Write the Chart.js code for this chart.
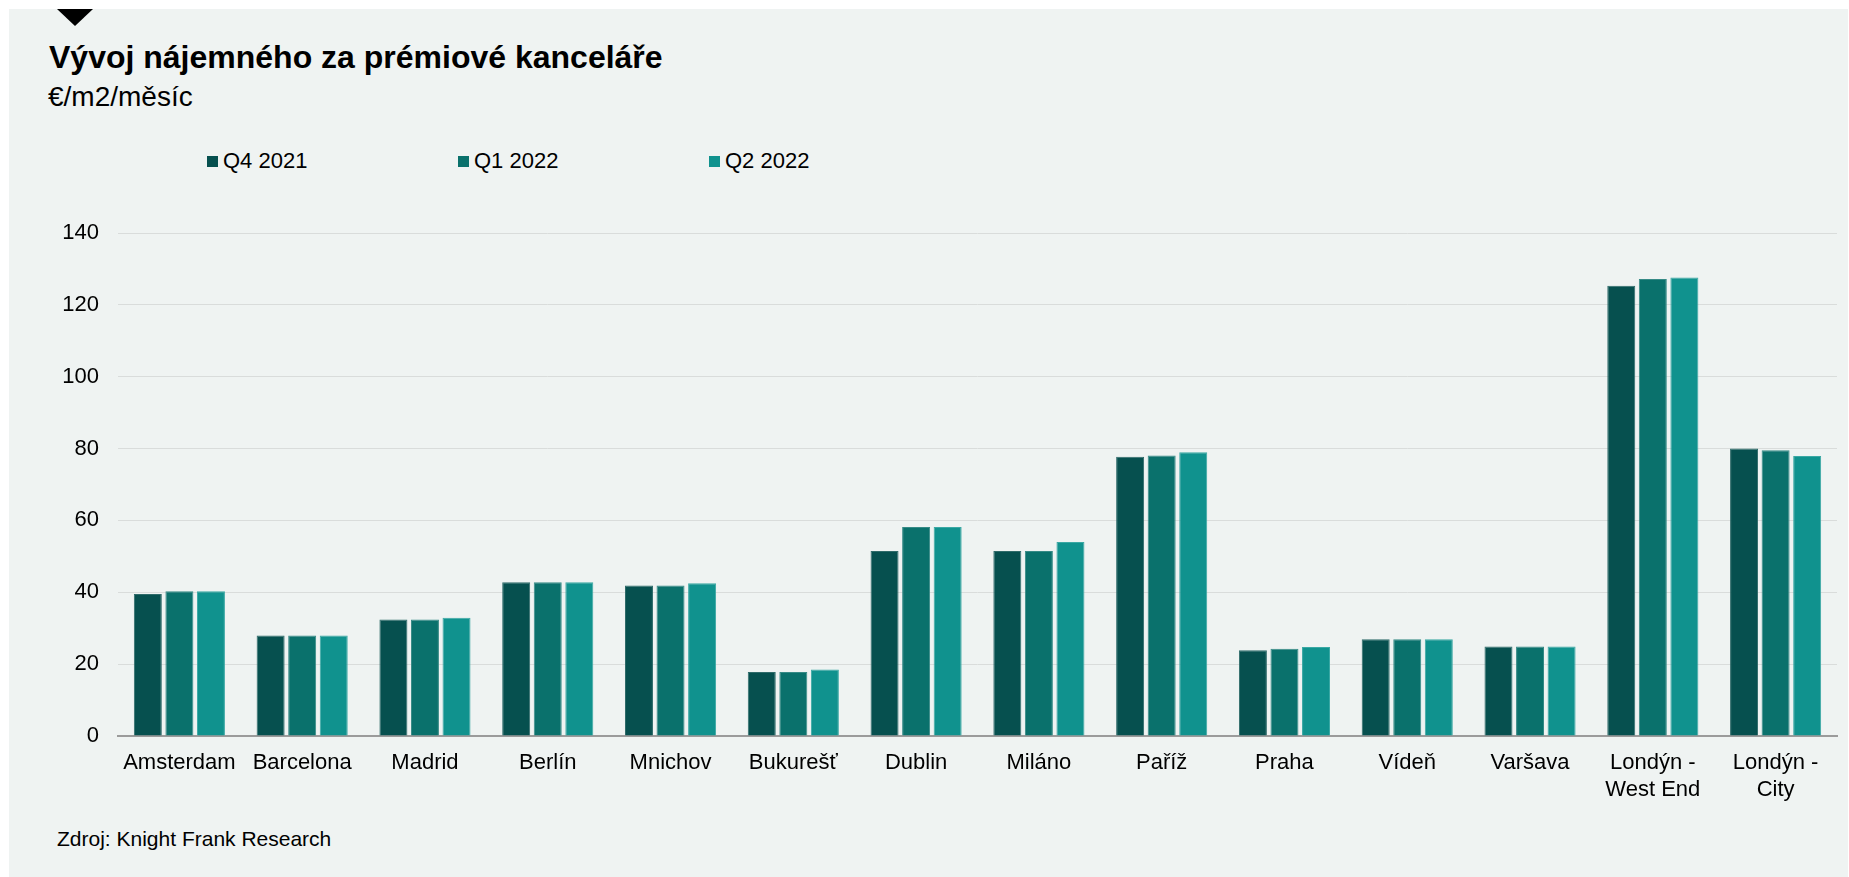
<!DOCTYPE html>
<html lang="cs">
<head>
<meta charset="utf-8">
<title>Vývoj nájemného za prémiové kanceláře</title>
<script src="https://cdn.jsdelivr.net/npm/chart.js@4/dist/chart.umd.min.js"></script>
<style>
  html, body { margin: 0; padding: 0; background: #ffffff; }
  body { width: 1849px; height: 877px; position: relative; overflow: hidden;
         font-family: "Liberation Sans", Arial, sans-serif; color: #000; }
  #panel { position: absolute; left: 9px; top: 9px; width: 1839px; height: 868px; background: #eff3f2; }
  #marker { position: absolute; left: 57px; top: 9px; width: 0; height: 0;
            border-left: 18px solid transparent; border-right: 18px solid transparent; border-top: 17px solid #000; }
  #title { position: absolute; left: 49px; top: 41px; font-size: 32px; line-height: 32px; font-weight: bold; white-space: nowrap; }
  #subtitle { position: absolute; left: 48px; top: 83px; font-size: 28px; line-height: 28px; white-space: nowrap; }
  #source { position: absolute; left: 57px; top: 828px; font-size: 21px; line-height: 21px; white-space: nowrap; }
  .leg { position: absolute; top: 150px; font-size: 22px; line-height: 22px; white-space: nowrap; }
  .leg span.box { display: inline-block; width: 11px; height: 11px; margin-right: 5px; vertical-align: 1px; }
  #wrap { position: absolute; left: 0; top: 0; width: 1849px; height: 877px; }
</style>
</head>
<body>
<div id="panel"></div>
<div id="marker"></div>
<div id="title">Vývoj nájemného za prémiové kanceláře</div>
<div id="subtitle">€/m2/měsíc</div>
<div id="legend"></div>
<div id="source">Zdroj: Knight Frank Research</div>
<div id="wrap"><canvas id="myChart" width="1849" height="877"></canvas></div>
<script>
// data
const cities = ["Amsterdam", "Barcelona", "Madrid", "Berlín", "Mnichov", "Bukurešť", "Dublin",
  "Miláno", "Paříž", "Praha", "Vídeň", "Varšava", ["Londýn -", "West End"], ["Londýn -", "City"]];
const seriesNames = ["Q4 2021", "Q1 2022", "Q2 2022"];
const q4_2021 = [39.5, 28, 32.4, 42.8, 41.9, 17.8, 51.5, 51.5, 77.7, 23.9, 26.9, 24.9, 125.3, 80.0];
const q1_2022 = [40.3, 28, 32.4, 42.8, 41.9, 17.8, 58.2, 51.5, 78.1, 24.3, 26.9, 24.9, 127.2, 79.5];
const q2_2022 = [40.3, 28, 32.9, 42.8, 42.5, 18.5, 58.2, 54.0, 79.0, 24.8, 26.9, 24.9, 127.6, 77.9];
const yTicks = [0, 20, 40, 60, 80, 100, 120, 140];

const colors = ["#06504f", "#0a716c", "#10928e"];
const borders = ["#2f6b6a", "#368a86", "#3aa8a4"];
const fontFamily = '"Liberation Sans", Arial, sans-serif';

// legend (html, placed like the reference)
const legendX = [207, 458, 709];
const legendDiv = document.getElementById("legend");
seriesNames.forEach((name, i) => {
    const item = document.createElement("div");
    item.className = "leg";
    item.style.left = legendX[i] + "px";
    item.innerHTML = '<span class="box" style="background:' + colors[i] + '"></span>' + name;
    legendDiv.appendChild(item);
});

const allSeries = [q4_2021, q1_2022, q2_2022];

const ctx = document.getElementById("myChart").getContext("2d");
const myChart = new Chart(ctx, {
    type: "bar",
    data: {
        labels: cities,
        datasets: allSeries.map((values, i) => ({
            label: seriesNames[i],
            data: values,
            backgroundColor: colors[i],
            borderColor: borders[i],
            borderWidth: 1,
            borderSkipped: "start",
            categoryPercentage: 0.771,
            barPercentage: 0.887,
        })),
    },
    options: {
        responsive: false,
        animation: false,
        layout: {
            padding: { top: 233, right: 12, bottom: 0, left: 0 },
        },
        plugins: {
            legend: { display: false },
            tooltip: { enabled: false },
        },
        scales: {
            x: {
                grid: { display: false, drawTicks: false },
                border: { display: true, color: "#9b9b9b", width: 2 },
                ticks: {
                    color: "#000",
                    padding: 14,
                    maxRotation: 0,
                    autoSkip: false,
                    font: { family: fontFamily, size: 22, lineHeight: 1.2 },
                },
                afterFit: (scale) => { scale.height = 141; },
            },
            y: {
                min: 0,
                max: 140,
                afterBuildTicks: (scale) => { scale.ticks = yTicks.map(v => ({ value: v })); },
                grid: { color: "#d9dcdb", lineWidth: 1, drawTicks: false },
                border: { display: false },
                ticks: {
                    color: "#000",
                    padding: 19,
                    font: { family: fontFamily, size: 22 },
                },
                afterFit: (scale) => { scale.width = 118; },
            },
        },
    },
});
</script>
</body>
</html>
